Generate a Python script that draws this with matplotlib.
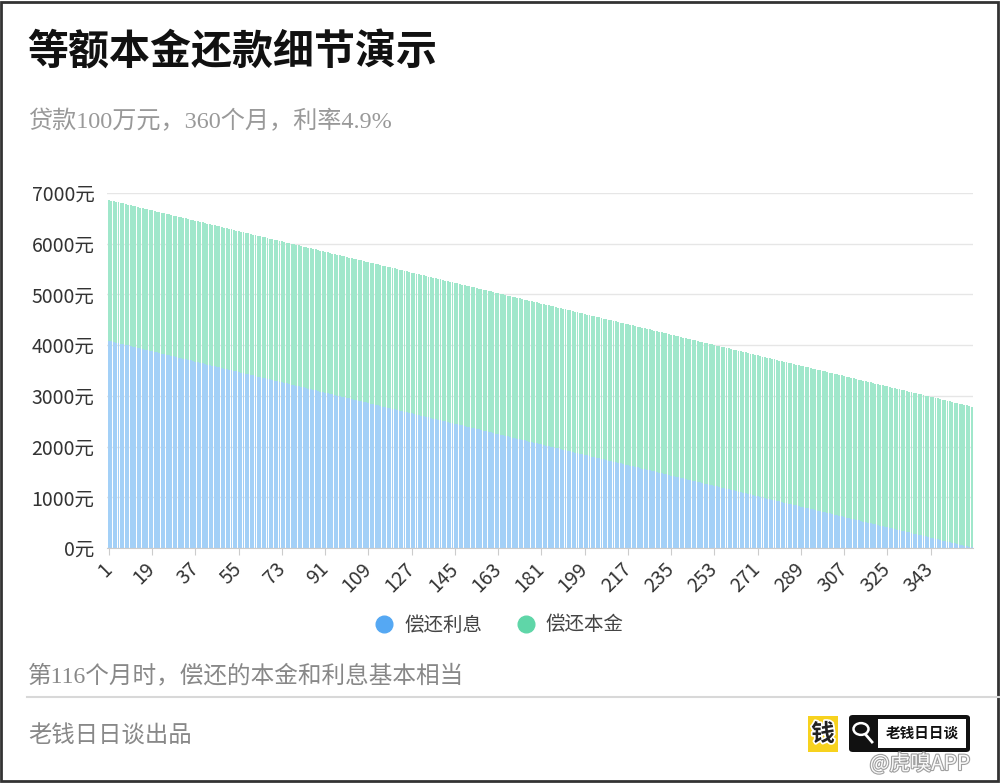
import matplotlib
matplotlib.use("Agg")
import matplotlib.pyplot as plt
import matplotlib.patheffects as pe
from matplotlib.lines import Line2D
from matplotlib.patches import FancyBboxPatch, Rectangle, Circle

plt.rcParams['font.family'] = ['Noto Sans CJK SC', 'DejaVu Sans']

# monthly interest (yuan), months 1..360 (10 months per row)
interest = [
    4083, 4072, 4061, 4049, 4038, 4027, 4015, 4004, 3993, 3981,
    3970, 3959, 3947, 3936, 3925, 3913, 3902, 3891, 3879, 3868,
    3856, 3845, 3834, 3822, 3811, 3800, 3788, 3777, 3766, 3754,
    3743, 3732, 3720, 3709, 3698, 3686, 3675, 3664, 3652, 3641,
    3630, 3618, 3607, 3596, 3584, 3573, 3562, 3550, 3539, 3528,
    3516, 3505, 3494, 3482, 3471, 3459, 3448, 3437, 3425, 3414,
    3403, 3391, 3380, 3369, 3357, 3346, 3335, 3323, 3312, 3301,
    3289, 3278, 3267, 3255, 3244, 3233, 3221, 3210, 3199, 3187,
    3176, 3165, 3153, 3142, 3131, 3119, 3108, 3097, 3085, 3074,
    3062, 3051, 3040, 3028, 3017, 3006, 2994, 2983, 2972, 2960,
    2949, 2938, 2926, 2915, 2904, 2892, 2881, 2870, 2858, 2847,
    2836, 2824, 2813, 2802, 2790, 2779, 2768, 2756, 2745, 2734,
    2722, 2711, 2700, 2688, 2677, 2666, 2654, 2643, 2631, 2620,
    2609, 2597, 2586, 2575, 2563, 2552, 2541, 2529, 2518, 2507,
    2495, 2484, 2473, 2461, 2450, 2439, 2427, 2416, 2405, 2393,
    2382, 2371, 2359, 2348, 2337, 2325, 2314, 2303, 2291, 2280,
    2269, 2257, 2246, 2234, 2223, 2212, 2200, 2189, 2178, 2166,
    2155, 2144, 2132, 2121, 2110, 2098, 2087, 2076, 2064, 2053,
    2042, 2030, 2019, 2008, 1996, 1985, 1974, 1962, 1951, 1940,
    1928, 1917, 1906, 1894, 1883, 1872, 1860, 1849, 1838, 1826,
    1815, 1803, 1792, 1781, 1769, 1758, 1747, 1735, 1724, 1713,
    1701, 1690, 1679, 1667, 1656, 1645, 1633, 1622, 1611, 1599,
    1588, 1577, 1565, 1554, 1543, 1531, 1520, 1509, 1497, 1486,
    1475, 1463, 1452, 1441, 1429, 1418, 1406, 1395, 1384, 1372,
    1361, 1350, 1338, 1327, 1316, 1304, 1293, 1282, 1270, 1259,
    1248, 1236, 1225, 1214, 1202, 1191, 1180, 1168, 1157, 1146,
    1134, 1123, 1112, 1100, 1089, 1078, 1066, 1055, 1044, 1032,
    1021, 1009, 998, 987, 975, 964, 953, 941, 930, 919,
    907, 896, 885, 873, 862, 851, 839, 828, 817, 805,
    794, 783, 771, 760, 749, 737, 726, 715, 703, 692,
    681, 669, 658, 647, 635, 624, 612, 601, 590, 578,
    567, 556, 544, 533, 522, 510, 499, 488, 476, 465,
    454, 442, 431, 420, 408, 397, 386, 374, 363, 352,
    340, 329, 318, 306, 295, 284, 272, 261, 250, 238,
    227, 216, 204, 193, 181, 170, 159, 147, 136, 125,
    113, 102, 91, 79, 68, 57, 45, 34, 23, 11,
]
# monthly principal is the same every month
principal = [2778] * len(interest)
months = list(range(1, len(interest) + 1))

xtick_months = [1, 19, 37, 55, 73, 91, 109, 127, 145, 163, 181, 199,
                217, 235, 253, 271, 289, 307, 325, 343]
ytick_values = [0, 1000, 2000, 3000, 4000, 5000, 6000, 7000]
ytick_labels = [f"{v}元" for v in ytick_values]

series_names = ["偿还利息", "偿还本金"]
legend_colors = ["#55a8f3", "#5fd6a8"]
bar_colors = ["#a3d0f7", "#a0e7cb"]

W, H = 1000, 783


def fx(x):
    return x / W


def fy(y):
    return 1 - y / H


fig = plt.figure(figsize=(10, 7.83), dpi=100)
fig.patch.set_facecolor("white")

ax = fig.add_axes([fx(107), fy(548), fx(973) - fx(107), fy(193) - fy(548)])
ax.bar(months, interest, width=0.8, color=bar_colors[0], linewidth=0)
ax.bar(months, principal, bottom=interest, width=0.8, color=bar_colors[1], linewidth=0)

ax.set_xlim(0.2, 360.6)
ax.set_ylim(0, 7000)
ax.set_yticks(ytick_values)
ax.set_yticklabels(ytick_labels, fontsize=14, color="#333333")
ax.set_xticks(xtick_months)
ax.set_xticklabels([str(m) for m in xtick_months], fontsize=14, color="#333333",
                   rotation=45, ha="right", va="center", rotation_mode="anchor")
ax.tick_params(axis="y", length=0, pad=9)
ax.tick_params(axis="x", length=5, color="#cccccc", pad=8)
ax.grid(axis="y", color="#e6e6e6", linewidth=1)
ax.set_axisbelow(True)
for side in ["top", "right", "left"]:
    ax.spines[side].set_visible(False)
ax.spines["bottom"].set_color("#cccccc")

# legend
handles = [Line2D([], [], marker="o", linestyle="", markersize=12,
                  markerfacecolor=c, markeredgecolor=c) for c in legend_colors]
fig.legend(handles, series_names, loc="center", bbox_to_anchor=(fx(500), fy(625)),
           ncol=2, frameon=False, fontsize=14, handlelength=0.8, handletextpad=0.63,
           columnspacing=1.85, labelcolor="#444444")

# titles and notes
serif_cjk = ["Liberation Serif", "Noto Sans CJK SC"]
fig.text(fx(27), fy(52), "等额本金还款细节演示", fontsize=29.5, fontweight="bold",
         color="#111111", va="center", ha="left")
fig.text(fx(28), fy(122), "贷款100万元，360个月，利率4.9%", fontsize=17.4,
         color="#999999", va="center", ha="left", family=serif_cjk)
fig.text(fx(28), fy(676), "第116个月时，偿还的本金和利息基本相当", fontsize=17,
         color="#888888", va="center", ha="left", family=serif_cjk)
fig.add_artist(Line2D([fx(27), fx(1000)], [fy(697), fy(697)], color="#d8d8d8", linewidth=1.5))
fig.text(fx(28), fy(737), "老钱日日谈出品", fontsize=16.8,
         color="#888888", va="center", ha="left", family=serif_cjk)

# logo block, bottom right
fig.add_artist(FancyBboxPatch((fx(808), fy(752)), fx(30), fy(716) - fy(752),
                              boxstyle="square,pad=0", facecolor="#f7d21e",
                              edgecolor="none", transform=fig.transFigure))
fig.text(fx(823), fy(734), "钱", fontsize=17, fontweight="bold", color="#222222",
         ha="center", va="center",
         path_effects=[pe.withStroke(linewidth=2.5, foreground="white")])
fig.add_artist(FancyBboxPatch((fx(849), fy(752)), fx(121), fy(715) - fy(752),
                              boxstyle="round,pad=0,rounding_size=0.004",
                              facecolor="#111111", edgecolor="none",
                              transform=fig.transFigure))
fig.add_artist(Rectangle((fx(878), fy(748)), fx(88), fy(719) - fy(748),
                         facecolor="white", edgecolor="none", transform=fig.transFigure))
fig.add_artist(Circle((fx(861), fy(729)), 0.0075, facecolor="none", edgecolor="white",
                      linewidth=1.8, transform=fig.transFigure))
fig.add_artist(Line2D([fx(866), fx(872)], [fy(735), fy(742)], color="white", linewidth=2))
fig.text(fx(922), fy(733), "老钱日日谈", fontsize=10.5, fontweight="bold", color="#111111",
         ha="center", va="center")
fig.text(fx(920), fy(764), "@虎嗅APP", fontsize=15, color="white", ha="center", va="center",
         alpha=0.95, path_effects=[pe.withStroke(linewidth=1.6, foreground="#9a9a9a")])

# thin dark frame around the picture
fig.add_artist(Rectangle((0.001, 0.002), 0.997, 0.996, facecolor="none", edgecolor="#333333",
                         linewidth=2, transform=fig.transFigure))

fig.savefig("out.png", dpi=100, facecolor="white")
